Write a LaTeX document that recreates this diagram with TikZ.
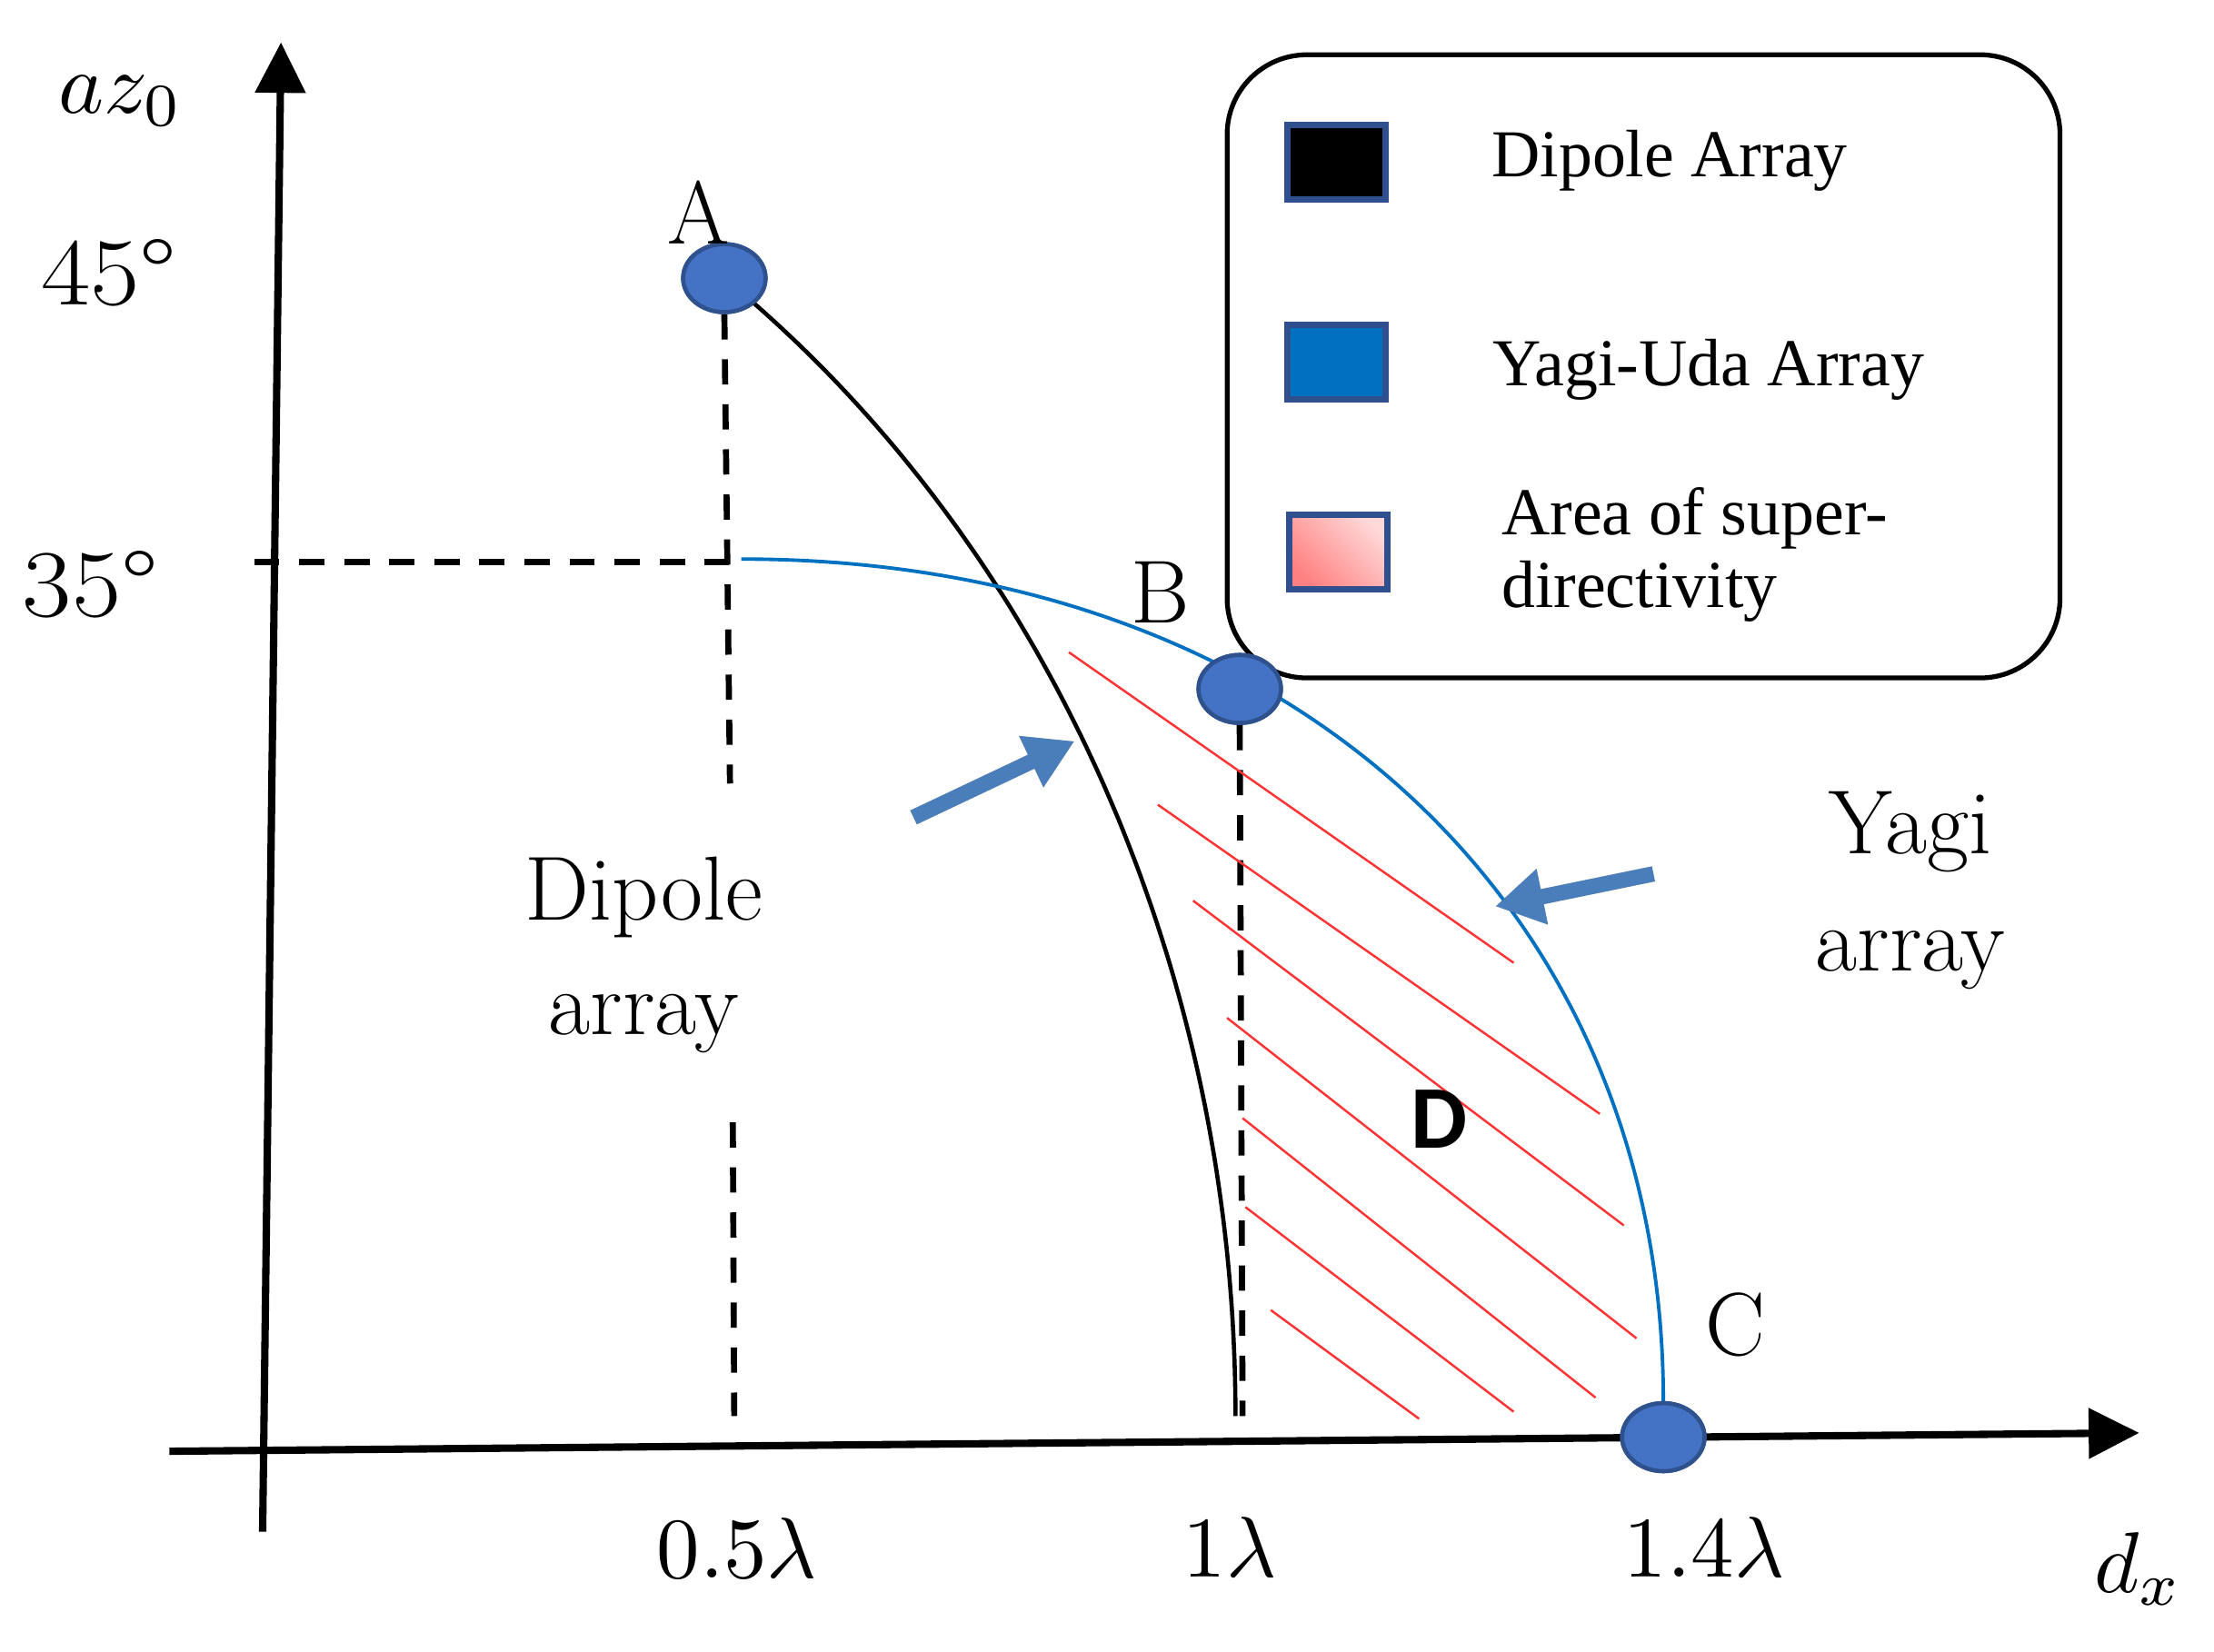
\documentclass[tikz,border=0pt]{standalone}
\usepackage{fontspec}
\newfontfamily\legfont{Liberation Serif}
\newfontfamily\dfont{Carlito}
\usetikzlibrary{arrows.meta,shapes.geometric,calc}
\definecolor{ptblue}{HTML}{4472C4}
\definecolor{ptedge}{HTML}{2F528F}
\definecolor{yagiblue}{HTML}{0070C0}
\definecolor{arrblue}{HTML}{4A7EBB}
\definecolor{hatchred}{HTML}{FF3333}
\definecolor{swedge}{HTML}{2F4F8F}
\definecolor{pinkdark}{HTML}{FF8080}
\definecolor{pinklight}{HTML}{FFD8D8}
\begin{document}
\begin{tikzpicture}[x=0.015536cm, y=-0.015536cm,
  axis/.style={line width=2.3pt, -{Triangle[length=15.8pt,width=15.4pt]}},
  guide/.style={line width=1.9pt, dash pattern=on 7.9pt off 6.2pt},
  dipcurve/.style={line width=1.3pt, black},
  yagicurve/.style={line width=1.1pt, yagiblue},
  hatch/.style={line width=0.7pt, hatchred},
  ptn/.style={ellipse, fill=ptblue, draw=ptedge, line width=1.3pt, minimum width=25.8pt, minimum height=21.3pt, inner sep=0pt},
  bigarrow/.style={line width=4.8pt, arrblue, -{Triangle[length=15pt,width=16.7pt]}},
  shadowarrow/.style={line width=4.8pt, black, opacity=0.15, -{Triangle[length=15pt,width=16.7pt]}},
  swatch/.style={rectangle, draw=swedge, line width=2pt, minimum width=30.8pt, minimum height=23.3pt, inner sep=0pt},
  legtext/.style={font=\legfont\fontsize{21}{22.5}\selectfont, anchor=base west, inner sep=0pt},
  biglabel/.style={font=\fontsize{28.5}{32}\selectfont, anchor=base, inner sep=0pt},
  mathlabel/.style={anchor=base, inner sep=0pt, scale=2.7},
  anglabel/.style={font=\fontsize{30}{34}\selectfont, anchor=base, inner sep=0pt, xscale=1.12},
  ptlabel/.style={font=\fontsize{28}{32}\selectfont, anchor=base, inner sep=0pt},
  legendbox/.style={draw, line width=1.5pt, rounded corners=25pt, minimum width=260.7pt, minimum height=195.1pt, inner sep=0pt}
]
\useasboundingbox (0,0) rectangle (1568,1170);

% axes
\coordinate (yb) at (186,1085);
\coordinate (yt) at (199,30);
\coordinate (xl) at (120,1028);
\coordinate (xr) at (1515,1015);
\draw[axis] (yb) -- (yt);
\draw[axis] (xl) -- (xr);

% legend box
\node[legendbox] (legend) at (1164,259.5) {};
\node[swatch, fill=black] (sw1) at (946.5,115) {};
\node[swatch, fill=yagiblue] (sw2) at (946.5,256.5) {};
\node[swatch, bottom color=pinkdark, top color=pinklight, shading angle=-45] (sw3) at (948,391) {};
\node[legtext] (lt1) at (1056,125) {Dipole Array};
\node[legtext] (lt2) at (1057,273) {Yagi-Uda Array};
\node[legtext] (lt3) at (1063,379) {Area of super-};
\node[legtext] (lt4) at (1063,430) {directivity};

% points
\node[ptn] (A) at (513,197) {};
\node[ptn] (B) at (878,488) {};
\node[ptn] (C) at (1178,1018) {};

% guide lines
\coordinate (a1) at (517,555);
\coordinate (a2) at (519,795);
\coordinate (a3) at (520,1003);
\coordinate (b1) at (880,1003);
\coordinate (h0) at (180,398);
\coordinate (h1) at (516,398);
\draw[guide] (A.south) -- (a1);
\draw[guide] (a2) -- (a3);
\draw[guide] (B.south) -- (b1);
\draw[guide] (h0) -- (h1);

% curves
\draw[dipcurve] plot[domain=53.3:0, samples=80, smooth] ({875*cos(\x)},{1003-995*sin(\x)});
\coordinate (ys) at (525,396);
\draw[yagicurve] (ys) .. controls (917,396) and (1178,645) .. (C.north);

% hatch
\draw[hatch] (757,462) -- (1072,682);
\draw[hatch] (820,570) -- (1133,789);
\draw[hatch] (845,638) -- (1150,868);
\draw[hatch] (869,721) -- (1159,948);
\draw[hatch] (880,792) -- (1130,990);
\draw[hatch] (882,855) -- (1072,1000);
\draw[hatch] (900,928) -- (1005,1005);

% redraw points on top
\node[ptn] at (A) {};
\node[ptn] at (B) {};
\node[ptn] at (C) {};

% block arrows
\coordinate (p1t) at (647,579);
\coordinate (p1h) at (761,525);
\coordinate (p2t) at (1171,619);
\coordinate (p2h) at (1059,642);
\begin{scope}[shift={(5,8)}]
\draw[shadowarrow] (p1t) -- (p1h);
\draw[shadowarrow] (p2t) -- (p2h);
\end{scope}
\begin{scope}[shift={(3,5)}]
\draw[shadowarrow] (p1t) -- (p1h);
\draw[shadowarrow] (p2t) -- (p2h);
\end{scope}
\draw[bigarrow] (p1t) -- (p1h);
\draw[bigarrow] (p2t) -- (p2h);

% labels
\node[ptlabel] (lA) at (495,173) {A};
\node[ptlabel] (lB) at (822,441) {B};
\node[ptlabel] (lC) at (1229,960) {C};
\node[font=\dfont\bfseries\fontsize{28}{32}\selectfont, anchor=base, inner sep=0pt] (lD) at (1019,813) {D};

\node[biglabel] (dip1) at (456,652) {Dipole};
\node[biglabel] (dip2) at (456,733) {array};
\node[biglabel] (yag1) at (1353,605) {Yagi};
\node[biglabel] (yag2) at (1353,688) {array};

\node[anglabel] (t45) at (77,216) {45\textdegree};
\node[anglabel] (t35) at (64,437) {35\textdegree};
\node[mathlabel, anchor=base west] (yl) at (40,80) {$az_0$};
\node[mathlabel] (t05) at (522,1118) {$0.5\lambda$};
\node[mathlabel] (t1) at (871,1117) {$1\lambda$};
\node[mathlabel] (t14) at (1207,1117) {$1.4\lambda$};
\node[mathlabel, anchor=base west] (xlab) at (1482,1128) {$d_x$};
\end{tikzpicture}
\end{document}
